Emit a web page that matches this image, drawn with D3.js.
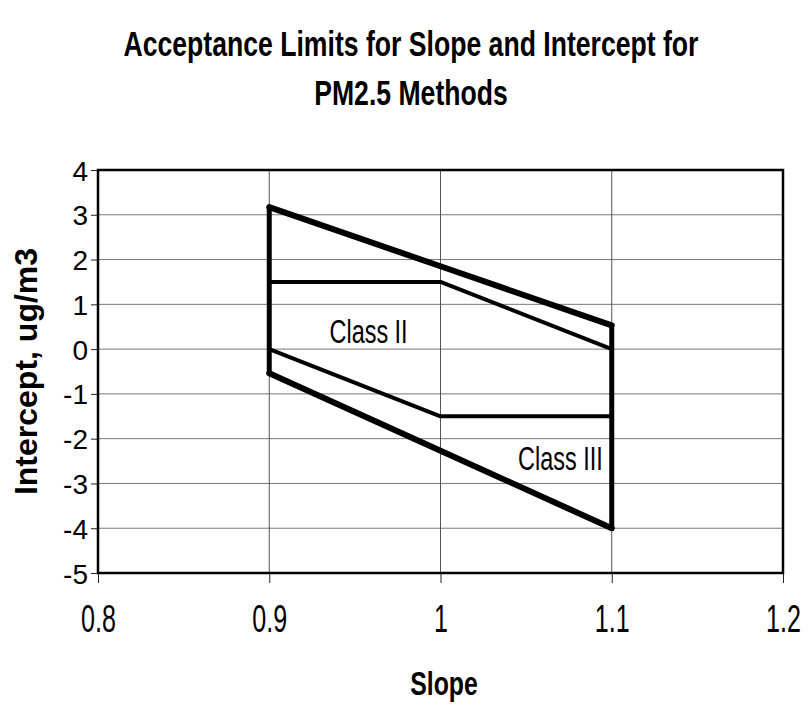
<!DOCTYPE html>
<html>
<head>
<meta charset="utf-8">
<script src="https://cdn.jsdelivr.net/npm/d3@7"></script>
<style>
    body { margin: 0; background: #fff; }
    text { font-family: "Liberation Sans", Arial, sans-serif; fill: #000; }
</style>
</head>
<body>
<svg id="chart" width="812" height="706"></svg>
<script>
// slope values where the limit lines change direction
const slopes = [0.9, 1.0, 1.1];

// intercept limits
const class3Upper = [3.17, 1.85, 0.53];
const class3Lower = [-0.54, -2.27, -4.0];
const class2Upper = [1.5, 1.5, 0.0];
const class2Lower = [0.0, -1.5, -1.5];

const xTicks = [0.8, 0.9, 1.0, 1.1, 1.2];
const xTickLabels = ["0.8", "0.9", "1", "1.1", "1.2"];
const yTicks = [4, 3, 2, 1, 0, -1, -2, -3, -4, -5];

const classLabels = ["Class II", "Class III"];
const classLabelX = [0.958, 1.07];
const classLabelY = [0.13, -2.7];

const titleLines = ["Acceptance Limits for Slope and Intercept for", "PM2.5 Methods"];

const width = 812;
const height = 706;
const plot = {left: 98, right: 783, top: 170, bottom: 573};

const svg = d3.select("#chart")
    .attr("viewBox", `0 0 ${width} ${height}`);

const x = d3.scaleLinear()
    .domain([0.8, 1.2])
    .range([plot.left, plot.right]);

const y = d3.scaleLinear()
    .domain([-5, 4])
    .range([plot.bottom, plot.top]);

// squeeze text horizontally, the scanned chart uses a very tight font
function squeeze(sel, factor) {
    sel.each(function() {
        const len = this.getComputedTextLength();
        d3.select(this)
            .attr("textLength", len * factor)
            .attr("lengthAdjust", "spacingAndGlyphs");
    });
}

// gridlines
svg.append("g")
    .selectAll("line")
    .data(yTicks)
    .enter()
    .append("line")
    .attr("x1", plot.left)
    .attr("x2", plot.right)
    .attr("y1", d => y(d))
    .attr("y2", d => y(d))
    .attr("stroke", "#777")
    .attr("stroke-width", 1);

svg.append("g")
    .selectAll("line")
    .data(xTicks)
    .enter()
    .append("line")
    .attr("x1", d => x(d))
    .attr("x2", d => x(d))
    .attr("y1", plot.top)
    .attr("y2", plot.bottom)
    .attr("stroke", "#555")
    .attr("stroke-width", 1);

// axes
const xAxis = svg.append("g")
    .attr("transform", `translate(0,${plot.bottom})`)
    .call(d3.axisBottom(x).tickValues(xTicks).tickSize(10).tickFormat((d, i) => xTickLabels[i]));

xAxis.select(".domain").remove();
xAxis.selectAll("line").attr("stroke", "#222");
xAxis.selectAll("text")
    .attr("y", 59)
    .attr("dy", 0)
    .style("font-size", "38px")
    .style("font-family", "'Liberation Sans', Arial, sans-serif")
    .call(squeeze, 0.66);

const yAxis = svg.append("g")
    .attr("transform", `translate(${plot.left},0)`)
    .call(d3.axisLeft(y).tickValues(yTicks).tickSize(7).tickFormat(d => String(d)));

yAxis.select(".domain").remove();
yAxis.selectAll("line").attr("stroke", "#222");
yAxis.selectAll("text")
    .attr("x", -10)
    .attr("dy", "0.36em")
    .style("font-size", "28px")
    .style("font-family", "'Liberation Sans', Arial, sans-serif");

// plot border
svg.append("rect")
    .attr("x", plot.left)
    .attr("y", plot.top)
    .attr("width", plot.right - plot.left)
    .attr("height", plot.bottom - plot.top)
    .attr("fill", "none")
    .attr("stroke", "#000")
    .attr("stroke-width", 2.5);

// limit lines
const line = d3.line()
    .x(d => x(d[0]))
    .y(d => y(d[1]));

const limitSeries = [
    {values: class3Upper, w: 6},
    {values: class3Lower, w: 6},
    {values: class2Upper, w: 4},
    {values: class2Lower, w: 4}
];

svg.append("g")
    .selectAll("path")
    .data(limitSeries)
    .enter()
    .append("path")
    .attr("d", s => line(slopes.map((v, i) => [v, s.values[i]])))
    .attr("fill", "none")
    .attr("stroke", "#000")
    .attr("stroke-width", s => s.w)
    .attr("stroke-linejoin", "round")
    .attr("stroke-linecap", "round");

// vertical ends of the acceptance region (slope 0.9 and 1.1)
const ends = [0, slopes.length - 1];
svg.append("g")
    .selectAll("line")
    .data(ends)
    .enter()
    .append("line")
    .attr("x1", i => x(slopes[i]))
    .attr("x2", i => x(slopes[i]))
    .attr("y1", i => y(class3Upper[i]))
    .attr("y2", i => y(class3Lower[i]))
    .attr("stroke", "#000")
    .attr("stroke-width", 5)
    .attr("stroke-linecap", "round");

// class labels
svg.append("g")
    .selectAll("text")
    .data(classLabels)
    .enter()
    .append("text")
    .text(d => d)
    .attr("x", (d, i) => x(classLabelX[i]))
    .attr("y", (d, i) => y(classLabelY[i]))
    .style("text-anchor", "middle")
    .style("font-size", "33px")
    .call(squeeze, 0.71);

// titles
svg.append("g")
    .selectAll("text")
    .data(titleLines)
    .enter()
    .append("text")
    .text(d => d)
    .attr("x", 411)
    .attr("y", (d, i) => 56 + i * 49)
    .style("text-anchor", "middle")
    .style("font-size", "35px")
    .style("font-weight", "bold")
    .call(squeeze, 0.76);

svg.append("text")
    .text("Slope")
    .attr("x", 444)
    .attr("y", 695)
    .style("text-anchor", "middle")
    .style("font-size", "34px")
    .style("font-weight", "bold")
    .call(squeeze, 0.73);

svg.append("text")
    .text("Intercept, ug/m3")
    .attr("transform", `translate(37,${(plot.top + plot.bottom) / 2}) rotate(-90)`)
    .style("text-anchor", "middle")
    .style("font-size", "32px")
    .style("font-weight", "bold");
</script>
</body>
</html>
